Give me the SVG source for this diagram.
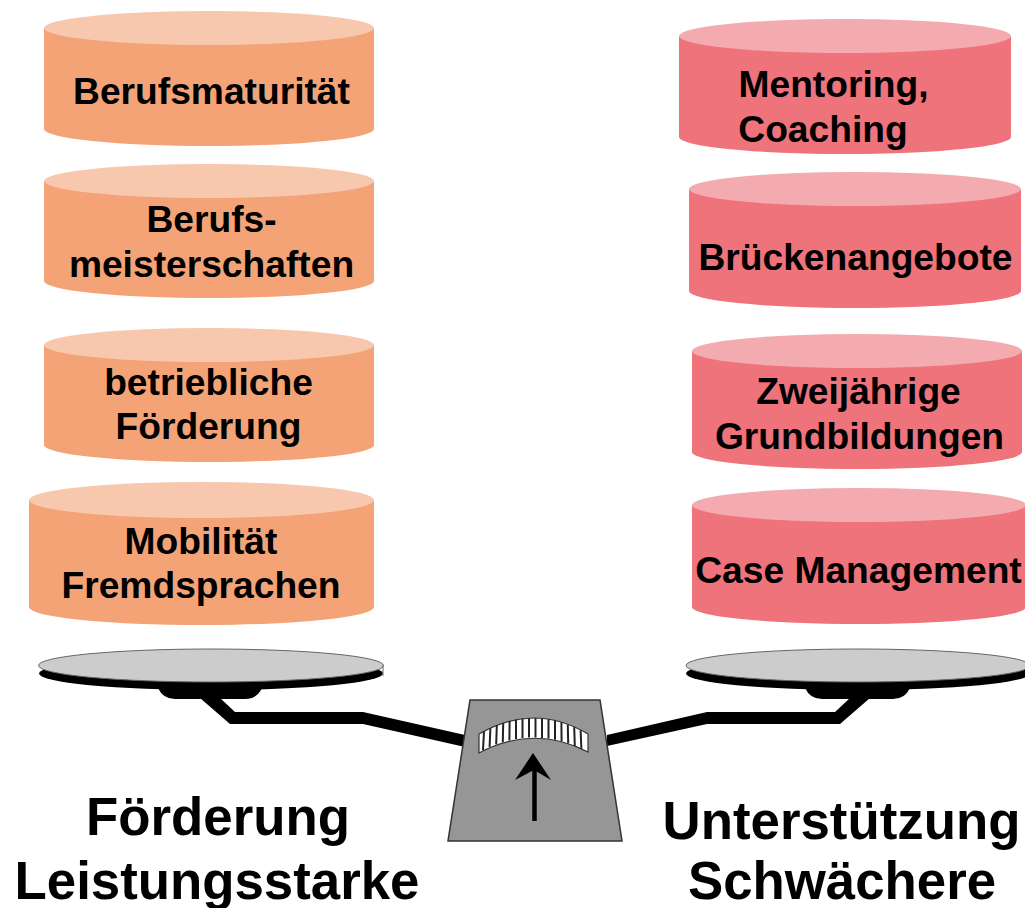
<svg xmlns="http://www.w3.org/2000/svg" width="1025" height="908" viewBox="0 0 1025 908">
<defs>
<style>
text{font-family:"Liberation Sans",Arial,sans-serif;font-weight:bold;fill:#000;text-anchor:middle}
.l{font-size:37.200px}
.b{font-size:52.800px}
.oside{fill:#f4a377}
.ocap{fill:#f8c8ae}
.rside{fill:#ee737a}
.rcap{fill:#f4abb0}
.pan{fill:#ccc;stroke:#666;stroke-width:1}
.tick{stroke:#222;stroke-width:2;fill:none}
</style>
</defs>
<rect width="1025" height="908" fill="#fff"/>
<g id="cyl-berufsmaturitaet">
<path class="oside" d="M44 28V129A165 17 0 0 0 374 129V28Z"/>
<ellipse class="ocap" cx="209" cy="28" rx="165" ry="17"/>
<text class="l" x="211.500" y="104">Berufsmaturität</text>
</g>
<g id="cyl-berufsmeisterschaften">
<path class="oside" d="M44 181V281A165 17 0 0 0 374 281V181Z"/>
<ellipse class="ocap" cx="209" cy="181" rx="165" ry="17"/>
<text class="l" x="211.500" y="232">Berufs-</text>
<text class="l" x="211.500" y="277">meisterschaften</text>
</g>
<g id="cyl-betriebliche">
<path class="oside" d="M44 345V445A165 17 0 0 0 374 445V345Z"/>
<ellipse class="ocap" cx="209" cy="345" rx="165" ry="17"/>
<text class="l" x="208.500" y="395">betriebliche</text>
<text class="l" x="208.500" y="439">Förderung</text>
</g>
<g id="cyl-mobilitaet">
<path class="oside" d="M29 500V607A172.500 18 0 0 0 374 607V500Z"/>
<ellipse class="ocap" cx="201.500" cy="500" rx="172.500" ry="18"/>
<text class="l" x="201" y="554">Mobilität</text>
<text class="l" x="201" y="598">Fremdsprachen</text>
</g>
<g id="cyl-mentoring">
<path class="rside" d="M679 36V137A166 17 0 0 0 1011 137V36Z"/>
<ellipse class="rcap" cx="845" cy="36" rx="166" ry="17"/>
<text class="l" x="833.500" y="97">Mentoring,</text>
<text class="l" x="823" y="142">Coaching</text>
</g>
<g id="cyl-brueckenangebote">
<path class="rside" d="M689 189V291A166 17 0 0 0 1021 291V189Z"/>
<ellipse class="rcap" cx="855" cy="189" rx="166" ry="17"/>
<text class="l" x="855.500" y="270">Brückenangebote</text>
</g>
<g id="cyl-zweijaehrige">
<path class="rside" d="M692 351V452A165 17 0 0 0 1022 452V351Z"/>
<ellipse class="rcap" cx="857" cy="351" rx="165" ry="17"/>
<text class="l" x="858.500" y="404">Zweijährige</text>
<text class="l" x="859.500" y="449">Grundbildungen</text>
</g>
<g id="cyl-case-management">
<path class="rside" d="M692 505V607A167 17 0 0 0 1026 607V505Z"/>
<ellipse class="rcap" cx="859" cy="505" rx="167" ry="17"/>
<text class="l" x="858.500" y="583">Case Management</text>
</g>
<g id="balance">
<ellipse cx="211" cy="673.500" rx="172" ry="16.500"/>
<path d="M158 688Q163 699 175 699H245Q257 699 262 688Z"/>
<path d="M200 698L230 724H363L465 747V735L363 712H235L220 698Z"/>
<ellipse class="pan" cx="211" cy="665.500" rx="172.500" ry="16.500"/>
<path d="M383 665V676" stroke="#666" stroke-width="1" fill="none"/>
<ellipse cx="858" cy="673.500" rx="172" ry="16.500"/>
<path d="M805 688Q810 699 822 699H893Q905 699 910 688Z"/>
<path d="M870 698L840 724H707L607 746V735L707 712H835L850 698Z"/>
<ellipse class="pan" cx="858" cy="665.500" rx="172" ry="16.500"/>
<path d="M470 700H600L622 841H448Z" fill="#969696" stroke="#333" stroke-width="1.500"/>
<path d="M479 734Q534 702 588 734L588 752Q534 724 479 753Z" fill="#fff" stroke="#333" stroke-width="1.200"/>
<path class="tick" d="M484 731.500L483 750.100M490.400 728.200L489.600 747.100M496.800 725.400L496.200 744.400M503.200 723L502.800 742.200M509.600 721.100L509.400 740.400M516 719.600V739M522.500 718.600V738.100M529 718.100V737.600M535.500 718V737.500M542 718.400V737.900M548.500 719.200V738.600M555 720.500V739.800M561.400 722.200L561.600 741.500M567.800 724.400L568.200 743.500M574.200 727.100L574.800 746M580.600 730.200L581.400 748.900"/>
<path d="M534.500 821V770" stroke="#000" stroke-width="4.500" fill="none"/>
<path d="M533 753L551 780L534 770L515 780Z"/>
</g>
<g id="label-foerderung">
<text class="b" x="218" y="835">Förderung</text>
<text class="b" x="217" y="899">Leistungsstarke</text>
</g>
<g id="label-unterstuetzung">
<text class="b" x="841.500" y="839">Unterstützung</text>
<text class="b" x="842" y="899">Schwächere</text>
</g>
</svg>
